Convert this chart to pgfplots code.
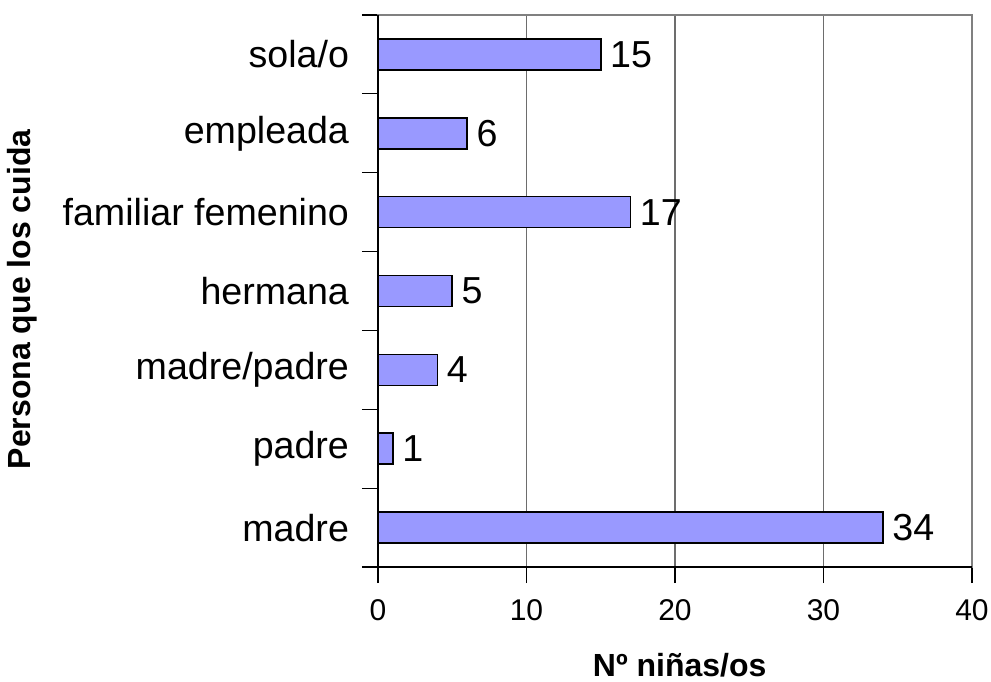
\documentclass[border=0pt]{standalone}
\usepackage{fontspec}
\setmainfont{Liberation Sans}
\usepackage{pgfplots}
\pgfplotsset{compat=1.18}
\definecolor{barfill}{HTML}{9999FF}
\definecolor{gridc}{HTML}{808080}
\begin{document}
\begin{tikzpicture}
\useasboundingbox (-189pt,-57pt) rectangle (306.5pt,283.5pt);
\begin{axis}[
  at={(0,0)}, anchor=south west,
  scale only axis, width=297pt, height=276pt,
  xbar, bar width=15.5pt,
  xmin=0, xmax=40, ymin=-0.5, ymax=6.5,
  xtick={0,10,20,30,40},
  ytick={-0.5,0.5,...,6.5},
  yticklabels={},
  xtick pos=left, ytick pos=left,
  extra y ticks={0,1,2,3,4,5,6},
  extra y tick labels={madre,padre,madre/padre,hermana,familiar femenino,empleada,sola/o},
  extra y tick style={tick style={draw=none}, yticklabel style={font=\fontsize{18.8}{22}\selectfont, xshift=-3pt}},
  major tick length=8pt,
  tick align=outside,
  tick style={draw=black, line width=0.6pt},
  xmajorgrids, major x grid style={gridc!85!black, line width=0.6pt},
  axis line style={gridc, line width=0.8pt},
  /pgf/number format/assume math mode=true,
  xticklabel style={font=\fontsize{15}{18}\selectfont, yshift=-4.5pt},
  xlabel={\textbf{Nº niñas/os}},
  ylabel={\textbf{Persona que los cuida}},
  xlabel style={font=\fontsize{16}{19}\selectfont, at={(axis description cs:0.508,-0.1775)}, anchor=center},
  ylabel style={font=\fontsize{16}{19}\selectfont, at={(axis description cs:-0.599,0.485)}, anchor=center},
  nodes near coords,
  every node near coord/.append style={font=\fontsize{18.8}{22}\selectfont, anchor=west, xshift=1pt, black},
  clip=false,
]
\addplot[fill=barfill, draw=black, line width=0.8pt] coordinates {
  (34,0) (1,1) (4,2) (5,3) (17,4) (6,5) (15,6)
};
\draw[black, line width=0.8pt] (rel axis cs:0,1) -- (rel axis cs:0,0) -- (rel axis cs:1,0);
\end{axis}
\end{tikzpicture}
\end{document}
